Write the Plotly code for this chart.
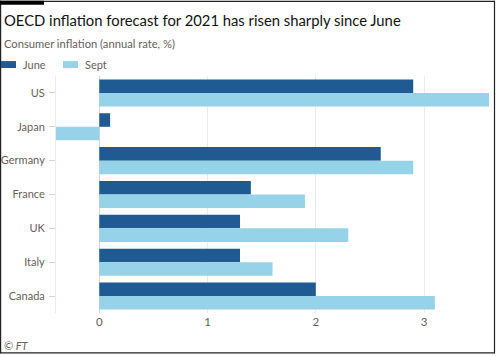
import plotly.graph_objects as go

countries = ["US", "Japan", "Germany", "France", "UK", "Italy", "Canada"]
june = [2.9, 0.1, 2.6, 1.4, 1.3, 1.3, 2.0]
sept = [3.6, -0.4, 2.9, 1.9, 2.3, 1.6, 3.1]
x_ticks = [0, 1, 2, 3]

JUNE_COL = "#1f5a92"
SEPT_COL = "#96d2e8"
TEXT_COL = "#66605c"
FONT = "Lato"

W, H = 497, 356
L, R, T, B = 56, 8, 75.5, 42.5
pw, ph = W - L - R, H - T - B


def px(x):
    return (x - L) / pw


def py(y):
    return 1 - (y - T) / ph


fig = go.Figure()
fig.add_trace(go.Bar(y=countries, x=june, orientation="h", name="June",
                     marker=dict(color=JUNE_COL, line=dict(width=0))))
fig.add_trace(go.Bar(y=countries, x=sept, orientation="h", name="Sept",
                     marker=dict(color=SEPT_COL, line=dict(width=0))))

line_col = "#222222"
shapes = [
    # outer frame (four lines)
    dict(type="line", xref="paper", yref="paper", x0=px(0.6), x1=px(0.6),
         y0=py(0), y1=py(354), line=dict(color=line_col, width=1.2)),
    dict(type="line", xref="paper", yref="paper", x0=px(494.5), x1=px(494.5),
         y0=py(0), y1=py(354), line=dict(color=line_col, width=1.2)),
    dict(type="line", xref="paper", yref="paper", x0=px(0), x1=px(495),
         y0=py(0.6), y1=py(0.6), line=dict(color=line_col, width=1.2)),
    dict(type="line", xref="paper", yref="paper", x0=px(0), x1=px(495),
         y0=py(353.5), y1=py(353.5), line=dict(color=line_col, width=1.2)),
    # top-left black bar
    dict(type="rect", xref="paper", yref="paper", x0=px(0), x1=px(44),
         y0=py(4), y1=py(0), fillcolor="#000000", line=dict(width=0)),
    # legend swatches
    dict(type="rect", xref="paper", yref="paper", x0=px(1), x1=px(16),
         y0=py(67.5), y1=py(60.5), fillcolor=JUNE_COL, line=dict(width=0)),
    dict(type="rect", xref="paper", yref="paper", x0=px(63), x1=px(78),
         y0=py(67.5), y1=py(60.5), fillcolor=SEPT_COL, line=dict(width=0)),
]

annotations = [
    dict(text="OECD inflation forecast for 2021 has risen sharply since June",
         xref="paper", yref="paper", x=px(2), y=py(19), xanchor="left", yanchor="middle",
         showarrow=False, font=dict(family=FONT, size=14.8, color="#111111")),
    dict(text="Consumer inflation (annual rate, %)",
         xref="paper", yref="paper", x=px(2), y=py(43), xanchor="left", yanchor="middle",
         showarrow=False, font=dict(family=FONT, size=11.2, color=TEXT_COL)),
    dict(text="June", xref="paper", yref="paper", x=px(21), y=py(64), xanchor="left",
         yanchor="middle", showarrow=False, font=dict(family=FONT, size=11, color=TEXT_COL)),
    dict(text="Sept", xref="paper", yref="paper", x=px(83), y=py(64), xanchor="left",
         yanchor="middle", showarrow=False, font=dict(family=FONT, size=11, color=TEXT_COL)),
    dict(text="<i>© FT</i>", xref="paper", yref="paper", x=px(2), y=py(346), xanchor="left",
         yanchor="middle", showarrow=False, font=dict(family=FONT, size=11, color=TEXT_COL)),
]

fig.update_layout(
    width=W, height=H,
    margin=dict(l=L, r=R, t=T, b=B, autoexpand=False),
    paper_bgcolor="white", plot_bgcolor="white",
    barmode="group", bargap=0.2, bargroupgap=0,
    showlegend=False,
    shapes=shapes, annotations=annotations,
    font=dict(family=FONT, size=11, color=TEXT_COL),
    xaxis=dict(range=[-0.4, 3.6], tickvals=x_ticks, ticktext=[str(v) for v in x_ticks],
               showgrid=True, gridcolor="#ece9e6", gridwidth=1,
               zeroline=True, zerolinecolor="#d8d4d0", zerolinewidth=1,
               showline=False, ticks="", tickfont=dict(size=11.5, color=TEXT_COL),
               fixedrange=True),
    yaxis=dict(autorange="reversed", showgrid=False, zeroline=False,
               showline=True, linecolor="#ece9e6", linewidth=1,
               ticks="outside", ticklen=6, tickcolor="#d8d4d0", tickwidth=1,
               tickfont=dict(size=11, color=TEXT_COL), ticklabelstandoff=2,
               fixedrange=True),
)

fig.write_html("out.html", config={"displayModeBar": False},
               post_script="document.body.style.margin='0';document.body.style.overflow='hidden';")
